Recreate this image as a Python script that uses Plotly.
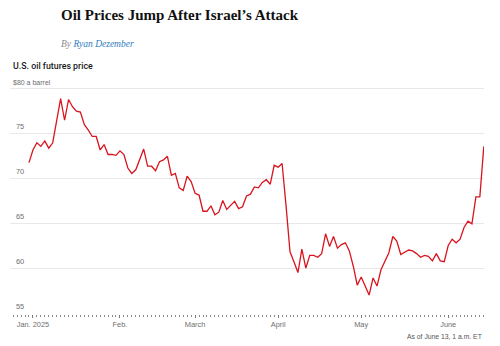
import pandas as pd
import plotly.graph_objects as go

# WTI front-month futures, daily closes (last point: June 13, 1 a.m. ET)
dates = pd.bdate_range("2024-12-31", "2025-06-13")
dates = dates.drop(pd.to_datetime(["2025-01-01", "2025-02-17", "2025-04-18"]))

prices_dec = [71.8]
prices_jan = [73.2, 74.0, 73.6, 74.2, 73.4, 74.0, 76.4, 78.9, 76.5, 78.8, 78.0,
              77.5, 77.4, 76.0, 75.4, 74.7, 74.7, 73.2, 73.8, 72.7, 72.7, 72.6]
prices_feb = [73.1, 72.7, 71.2, 70.6, 71.0, 72.1, 73.3, 71.4, 71.4, 70.9, 71.9,
              72.1, 72.5, 70.4, 70.6, 69.0, 68.7, 70.3, 69.7]
prices_mar = [68.4, 68.2, 66.4, 66.4, 67.0, 66.0, 66.3, 67.6, 66.6, 67.1, 67.5,
              66.7, 66.9, 68.1, 68.3, 69.1, 69.0, 69.6, 69.9, 69.4, 71.5]
prices_apr = [71.3, 71.7, 67.0, 61.9, 60.8, 59.6, 62.2, 60.1, 61.5, 61.5, 61.3,
              61.7, 63.9, 62.5, 63.6, 62.3, 62.7, 62.9, 62.0, 60.3, 58.2]
prices_may = [59.1, 58.1, 57.1, 59.0, 58.1, 59.9, 60.9, 61.8, 63.6, 63.1, 61.6,
              61.9, 62.1, 62.0, 61.7, 61.3, 61.5, 61.4, 60.9, 61.7, 60.9, 60.8]
prices_jun = [62.6, 63.3, 62.9, 63.3, 64.6, 65.3, 65.0, 68.0, 68.0, 73.6]

prices = (prices_dec + prices_jan + prices_feb + prices_mar + prices_apr
          + prices_may + prices_jun)

month_labels = ["Jan. 2025", "Feb.", "March", "April", "May", "June"]
y_ticks = [55, 60, 65, 70, 75, 80]

# trading-day index as the x coordinate; ticks on each month's first session
idx = list(range(len(dates)))
month_first = [i for i in idx if i == 0 or dates[i].month != dates[i - 1].month]
month_first = [i for i in month_first if dates[i].year == 2025]

W, H = 500, 346
L, R, T, B = 10, 16, 86, 32
PW, PH = W - L - R, H - T - B
SANS = "Liberation Sans, Arial, sans-serif"
SERIF = "Liberation Serif, Times New Roman, serif"
SMALL = 7.4
GREY = "#6e6e6e"


def px_x(px):
    return (px - L) / PW


def px_y(py):
    return (H - B - py) / PH


fig = go.Figure()
fig.add_trace(go.Scatter(
    x=idx, y=prices, mode="lines",
    line=dict(color="#d9141e", width=1.3),
    hoverinfo="skip", showlegend=False,
))

annotations = [
    dict(text="Oil Prices Jump After Israel\u2019s Attack", x=px_x(58.5), y=px_y(15),
         xanchor="left", yanchor="middle",
         font=dict(family=SERIF, size=15, color="#111111", weight="bold"),
         showarrow=False),
    dict(text="By <span style='color:#2f7dbf'>Ryan Dezember</span>",
         x=px_x(58.5), y=px_y(43.5), xanchor="left", yanchor="middle",
         font=dict(family=SERIF, size=9.5, color="#8a8a8a", style="italic"),
         showarrow=False),
    dict(text="U.S. oil futures price", x=px_x(10.5), y=px_y(65.5),
         xanchor="left", yanchor="middle",
         font=dict(family="Roboto, sans-serif", size=8.8, color="#1a1a1a",
                   weight=500),
         showarrow=False),
    dict(text="As of June 13, 1 a.m. ET", x=px_x(483.5), y=px_y(336.5),
         xanchor="right", yanchor="middle",
         font=dict(family=SANS, size=6.8, color="#555555"), showarrow=False),
    dict(text="Note: West Texas Intermediate", x=px_x(10.5), y=px_y(343.5),
         xanchor="left", yanchor="top",
         font=dict(family=SANS, size=SMALL, color="#555555"), showarrow=False),
]
for v in y_ticks:
    label = "$80 a barrel" if v == 80 else str(v)
    annotations.append(dict(
        text=label, xref="paper", yref="y",
        x=px_x(10.5 if v == 80 else 14), y=v, yshift=1,
        xanchor="left", yanchor="bottom",
        font=dict(family=SANS, size=SMALL if v != 80 else 7, color=GREY),
        showarrow=False))
for a in annotations:
    a.setdefault("xref", "paper")
    a.setdefault("yref", "paper")

fig.update_layout(
    width=W, height=H,
    margin=dict(l=L, r=R, t=T, b=B, pad=0),
    paper_bgcolor="white", plot_bgcolor="white",
    annotations=annotations,
    xaxis=dict(
        range=[-4.8, len(idx) - 1 + 0.05],
        tickvals=month_first, ticktext=month_labels,
        ticks="outside", ticklen=3, tickwidth=1, tickcolor="#7a7a7a",
        tickfont=dict(family=SANS, size=SMALL, color=GREY),
        showgrid=False, zeroline=False, showline=False,
        minor=dict(dtick=1, tick0=0, ticks="outside", ticklen=1.5,
                   tickwidth=1, tickcolor="#8a8a8a", showgrid=False),
        fixedrange=True,
    ),
    yaxis=dict(
        range=[55, 80.3],
        tickvals=y_ticks[1:], showticklabels=False,
        showgrid=True, gridcolor="#e8e8e8", gridwidth=1,
        zeroline=False, showline=False, fixedrange=True,
    ),
)

fig.write_html("out.html", config={"displayModeBar": False})
